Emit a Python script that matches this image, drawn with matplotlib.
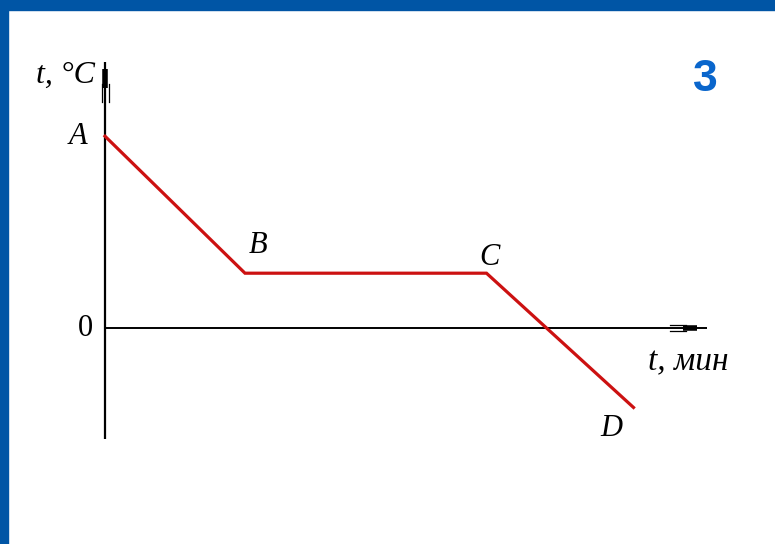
import matplotlib.pyplot as plt
from matplotlib.patches import Rectangle

# graph of temperature vs time (cooling, crystallisation, cooling)
points = ['A', 'B', 'C', 'D']
times = [0, 4, 10.9, 15.1]
temps = [7, 2, 2, -2.9]

# pixel mapping of the picture: origin at (105, 328), 35 px per minute, 27.4 px per degree
W, H = 775, 544
ox, oy, sx, sy = 105, 328, 35.0, 27.4

fig = plt.figure(figsize=(W / 100, H / 100), dpi=100)
ax = fig.add_axes([0, 0, 1, 1])
ax.set_xlim(-ox / sx, (W - ox) / sx)
ax.set_ylim(-(H - oy) / sy, oy / sy)
ax.axis('off')

blue = '#0055a5'
fig.patches.append(Rectangle((0, 1 - 10 / H), 1, 10 / H, transform=fig.transFigure, color=blue, zorder=0))
fig.patches.append(Rectangle((0, 0), 8 / W, 1, transform=fig.transFigure, color=blue, zorder=0))

# axes
ymin, ymax = -4.05, 9.7
xmax = 17.2
ax.plot([0, 0], [ymin, ymax], color='black', lw=1.6, solid_capstyle='butt')
ax.plot([0, xmax], [0, 0], color='black', lw=1.4, solid_capstyle='butt')
# arrow-ish tips
ax.plot([0, 0], [ymax - 0.95, ymax - 0.25], color='black', lw=4, solid_capstyle='butt')
for dx in (-0.1, 0.1):
    ax.plot([dx, dx], [ymax - 1.45, ymax - 0.8], color='black', lw=0.9)
ax.plot([xmax - 0.7, xmax - 0.3], [0, 0], color='black', lw=4, solid_capstyle='butt')
for dy in (-0.12, 0.12):
    ax.plot([xmax - 1.05, xmax - 0.6], [dy, dy], color='black', lw=0.9)

ax.plot(times, temps, color='#cc1111', lw=2.3, solid_joinstyle='miter')

serif = ['Liberation Serif', 'DejaVu Serif']
offsets = {'A': (-27, 0), 'B': (13, 28), 'C': (3, 16), 'D': (-22, -21)}
for name, t, T in zip(points, times, temps):
    ax.annotate(name, (t, T), xytext=offsets[name], textcoords='offset pixels',
                ha='center', va='center', fontsize=22, fontstyle='italic', family=serif)

ax.text(-0.35, 0, '0', ha='right', va='center', fontsize=22, family=serif)
ax.text(-0.3, 9.23, 't, °C', ha='right', va='center', fontsize=23,
        fontstyle='italic', family=serif)
ax.text(15.5, -1.24, 't, мин', ha='left', va='center', fontsize=24,
        fontstyle='italic', family=serif)
ax.text(17.15, 9.07, '3', ha='center', va='center', fontsize=32, fontweight='bold',
        color='#0a66cc', family=['Liberation Sans', 'DejaVu Sans'])

fig.savefig('out.png', dpi=100)
